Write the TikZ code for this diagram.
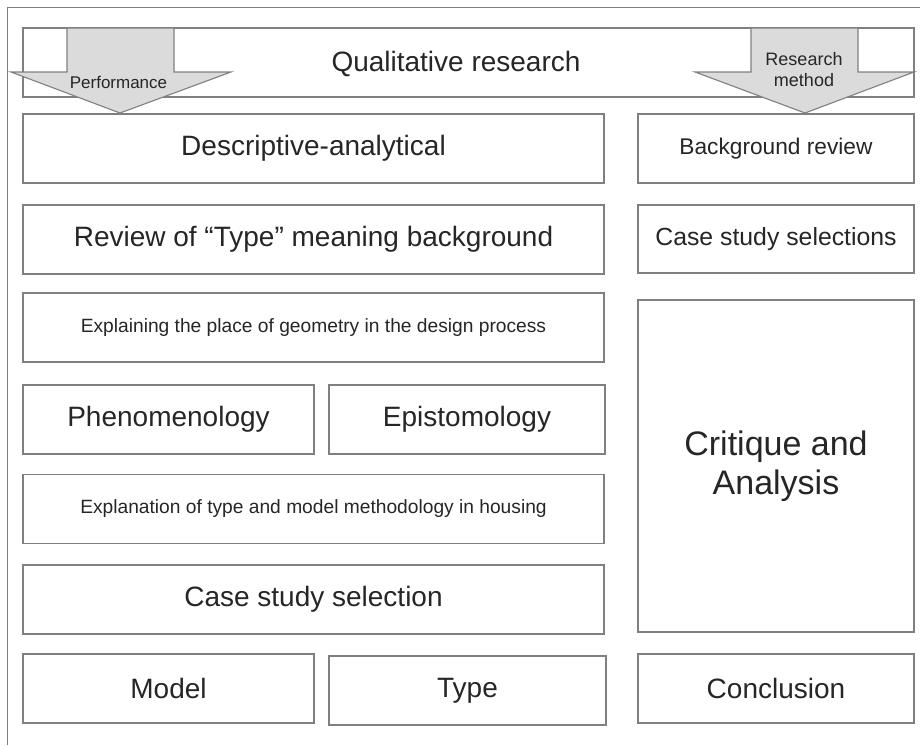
\documentclass[tikz,border=0pt]{standalone}
\usepackage{fontspec}
\setmainfont{Liberation Sans}
\usetikzlibrary{calc}
\definecolor{linegray}{rgb}{0.50,0.50,0.50}
\definecolor{textgray}{rgb}{0.15,0.15,0.15}
\definecolor{arrowgray}{rgb}{0.86,0.86,0.86}

\begin{document}
\begin{tikzpicture}[x=1pt,y=-1pt]
  %%Create the styles for the boxes and the two big arrows
  \tikzset{box/.style={draw=linegray,line width=1.3pt,rectangle,inner sep=0pt,text=textgray,align=center}}
  \tikzset{flow arrow/.style={draw=linegray,line width=1.1pt,fill=arrowgray}}
  \tikzset{arrow text/.style={text=textgray,align=center,inner sep=0pt}}
  \useasboundingbox (0,0) rectangle (920,745);
  \fill[white] (0,0) rectangle (920,745);
  %%Frame of the figure (cut at right and bottom)
  \draw[linegray,line width=0.9pt] (7,745) -- (7,7) -- (920,7);
  %%Top box
  \node[box,minimum width=891pt,minimum height=69pt] (nqual) at (468.5,62.5) {};
  \node[text=textgray,font=\fontsize{28}{32}\selectfont] (lqual) at (456,64) {Qualitative research};
  %%Left column, full width boxes
  \foreach \n/\cy/\s/\txt in {desc/148.5/28/Descriptive-analytical,
                              rev/239.5/28/Review of “Type” meaning background,
                              geo/327.5/19.2/Explaining the place of geometry in the design process,
                              meth/509/19.2/Explanation of type and model methodology in housing,
                              case/599.5/28/Case study selection}{
    \node[box,minimum width=581pt,minimum height=69pt,font=\fontsize{\s}{\s}\selectfont] (n\n) at (313.5,\cy) {\txt};
  }
  %%Left column, half width boxes
  \foreach \n/\cx/\cy/\w/\txt in {phen/168.5/419.5/291/Phenomenology,
                                  epis/467/419.5/276/Epistomology,
                                  model/168.5/688.5/291/Model,
                                  type/467.5/690.5/277/Type}{
    \node[box,minimum width=\w pt,minimum height=69pt,font=\fontsize{28}{32}\selectfont] (n\n) at (\cx,\cy) {\txt};
  }
  %%Right column
  \foreach \n/\cy/\h/\s/\txt in {bg/148.5/69/22.7/Background review,
                                 sel/239/68/24.8/Case study selections,
                                 concl/688.5/69/28/Conclusion}{
    \node[box,minimum width=276pt,minimum height=\h pt,font=\fontsize{\s}{\s}\selectfont] (n\n) at (776,\cy) {\txt};
  }
  \node[box,minimum width=276pt,minimum height=332pt,font=\fontsize{34}{39}\selectfont] (ncrit) at (776,466) {Critique and\\Analysis};
  %%The two big arrows over the top box
  \filldraw[flow arrow] (67,28) -- (67,72) -- (11,72) -- (120,113) -- (231,72) -- (174,72) -- (174,28) -- cycle;
  \filldraw[flow arrow] (751,28) -- (751,72) -- (695,72) -- (805,113) -- (914,72) -- (858,72) -- (858,28) -- cycle;
  \node[arrow text,font=\fontsize{17}{20}\selectfont] (lperf) at (118.5,82.5) {Performance};
  \node[arrow text,font=\fontsize{18}{21}\selectfont] (lmeth) at (804,70) {Research\\method};
\end{tikzpicture}
\end{document}
